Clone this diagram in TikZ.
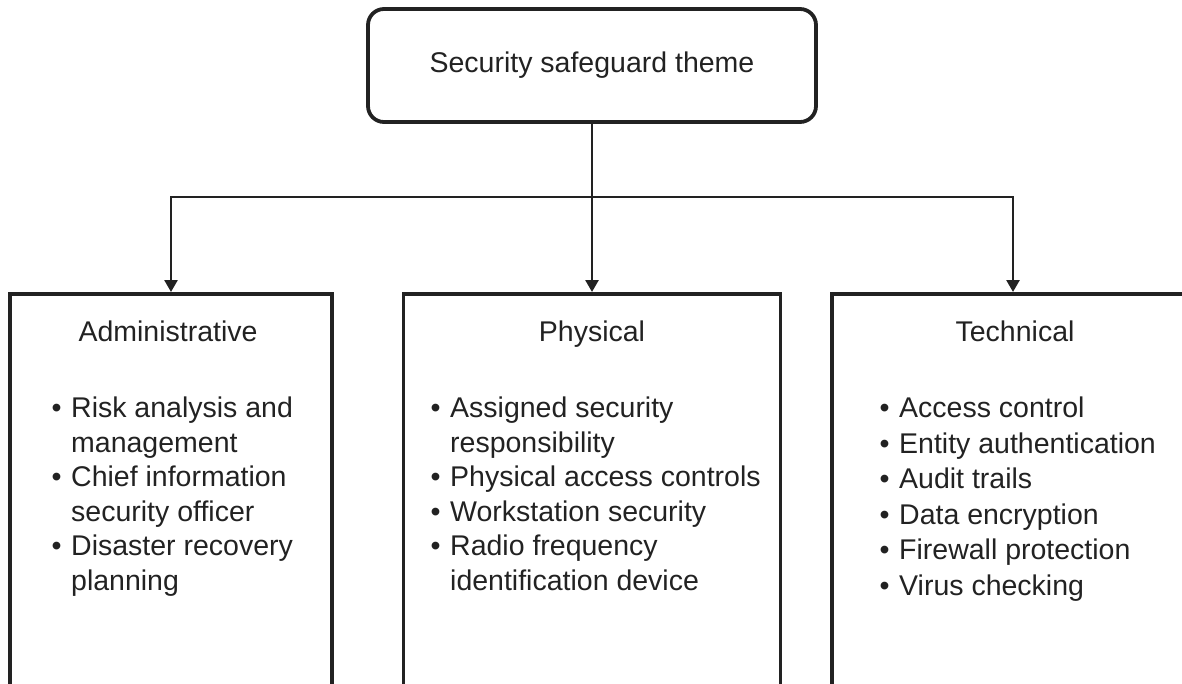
\documentclass[tikz,border=0pt]{standalone}
\usepackage{fontspec}
\setmainfont{Liberation Sans}
\usetikzlibrary{arrows.meta}
\definecolor{ink}{HTML}{222222}
\newcommand\bul{\makebox[19.5pt][l]{\textbullet}}

\begin{document}
\begin{tikzpicture}[x=1pt,y=-1pt,
  every node/.style={text=ink},
  txt/.style={font=\fontsize{28.5}{34.5}\selectfont},
  topbox/.style={txt, draw=ink, line width=3.8pt, rounded corners=16pt,
                 minimum width=448pt, minimum height=113pt},
  groupbox/.style={draw=ink, line width=3.8pt, anchor=north,
                   minimum height=480pt, inner sep=0pt},
  header/.style={txt, anchor=base, inner sep=0pt},
  items/.style={txt, anchor=base west, inner sep=0pt},
  link/.style={draw=ink, line width=2.6pt},
  arrow/.style={link, -{Triangle[width=13pt,length=12pt]}}
]
\useasboundingbox (0,0) rectangle (1182,683);
\clip (0,0) rectangle (1182,683);

% theme box
\node[topbox] (theme) at (592,65.5) {Security safeguard theme};

% the three safeguard groups
\node[groupbox, minimum width=322pt] (admin) at (171,292) {};
\node[groupbox, minimum width=377pt] (phys)  at (592,292) {};
\node[groupbox, minimum width=362pt] (tech)  at (1013,292) {};

% connectors
\coordinate (hub) at (592,197);
\draw[arrow] (theme.south) -- (phys.north);
\draw[arrow] (hub) -| (admin.north);
\draw[arrow] (hub) -| (tech.north);

% group titles
\node[header] (adminhead) at (168,341) {Administrative};
\node[header] (physhead)  at (592,341) {Physical};
\node[header] (techhead)  at (1015,341) {Technical};

% group contents
\node[items] (adminlist) at (51.5,417.7) {%
  \begin{tabular}[t]{@{}l@{}l@{}}
  \bul & Risk analysis and\\
       & management\\
  \bul & Chief information\\
       & security officer\\
  \bul & Disaster recovery\\
       & planning
  \end{tabular}};

\node[items] (physlist) at (430.5,417.7) {%
  \begin{tabular}[t]{@{}l@{}l@{}}
  \bul & Assigned security\\
       & responsibility\\
  \bul & Physical access controls\\
  \bul & Workstation security\\
  \bul & Radio frequency\\
       & identification device
  \end{tabular}};

\node[items, font=\fontsize{28.5}{35.5}\selectfont] (techlist) at (879.5,417.7) {%
  \begin{tabular}[t]{@{}l@{}l@{}}
  \bul & Access control\\
  \bul & Entity authentication\\
  \bul & Audit trails\\
  \bul & Data encryption\\
  \bul & Firewall protection\\
  \bul & Virus checking
  \end{tabular}};
\end{tikzpicture}
\end{document}
